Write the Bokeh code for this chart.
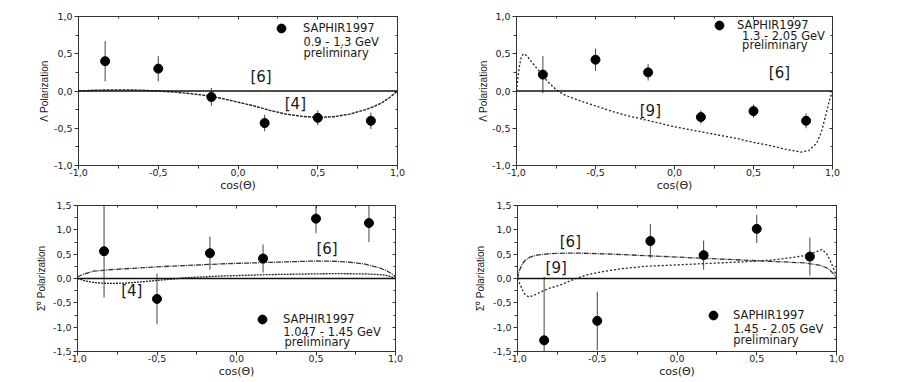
from bokeh.plotting import figure
from bokeh.layouts import column, row
from bokeh.models import (Range1d, FixedTicker, LinearAxis, Span, Label, Legend, LegendItem,
                          CustomJSTickFormatter, ColumnDataSource, CustomLabelingPolicy)
from bokeh.embed import file_html
from bokeh.resources import INLINE

# ---------------- data ----------------
cos_bins = [-0.833, -0.5, -0.167, 0.167, 0.5, 0.833]

# Lambda polarization, 0.9 - 1.3 GeV
lam1_val = [0.40, 0.30, -0.08, -0.43, -0.36, -0.40]
lam1_err = [0.27, 0.17, 0.12, 0.11, 0.10, 0.11]
lam1_m4_x = [-1, -0.9, -0.8, -0.7, -0.6, -0.5, -0.4, -0.3, -0.2, -0.1, 0, 0.1, 0.2, 0.3, 0.4,
             0.5, 0.6, 0.7, 0.8, 0.85, 0.9, 0.95, 1.0]
lam1_m4_y = [0, 0.01, 0.015, 0.015, 0.01, 0.0, -0.015, -0.035, -0.06, -0.1, -0.15, -0.2, -0.26,
             -0.31, -0.34, -0.355, -0.345, -0.31, -0.25, -0.21, -0.16, -0.09, 0.0]

# Lambda polarization, 1.3 - 2.05 GeV
lam2_val = [0.22, 0.42, 0.25, -0.35, -0.27, -0.40]
lam2_err = [0.25, 0.15, 0.11, 0.09, 0.09, 0.10]
lam2_m9_x = [-1, -0.99, -0.98, -0.97, -0.96, -0.95, -0.93, -0.9, -0.85, -0.8, -0.75, -0.7, -0.6,
             -0.5, -0.4, -0.3, -0.2, -0.1, 0, 0.1, 0.2, 0.3, 0.4, 0.5, 0.6, 0.7, 0.75, 0.8, 0.85,
             0.9, 0.93, 0.96, 0.98, 1.0]
lam2_m9_y = [0, 0.2, 0.35, 0.45, 0.49, 0.5, 0.46, 0.38, 0.25, 0.12, 0.02, -0.05, -0.13, -0.2,
             -0.27, -0.33, -0.38, -0.43, -0.48, -0.52, -0.56, -0.6, -0.64, -0.69, -0.73, -0.78,
             -0.8, -0.82, -0.8, -0.7, -0.55, -0.3, -0.13, 0]

# Sigma0 polarization, 1.047 - 1.45 GeV
sig1_val = [0.56, -0.42, 0.52, 0.41, 1.23, 1.14]
sig1_err = [0.95, 0.52, 0.34, 0.29, 0.30, 0.39]
sig1_m6_x = [-1, -0.97, -0.93, -0.9, -0.8, -0.7, -0.5, -0.3, -0.1, 0.1, 0.3, 0.5, 0.6, 0.7, 0.8,
             0.9, 0.95, 0.98, 1]
sig1_m6_y = [0.03, 0.08, 0.12, 0.15, 0.18, 0.2, 0.24, 0.27, 0.3, 0.32, 0.34, 0.36, 0.355, 0.34,
             0.3, 0.22, 0.15, 0.09, 0.03]
sig1_m4_x = [-1, -0.95, -0.9, -0.85, -0.8, -0.7, -0.6, -0.5, -0.4, -0.3, -0.2, -0.1, 0, 0.2, 0.4,
             0.6, 0.8, 0.9, 0.95, 1]
sig1_m4_y = [0, -0.05, -0.08, -0.095, -0.1, -0.095, -0.07, -0.04, -0.01, 0.02, 0.035, 0.05, 0.06,
             0.08, 0.09, 0.1, 0.095, 0.08, 0.06, 0.0]

# Sigma0 polarization, 1.45 - 2.05 GeV
sig2_val = [-1.27, -0.87, 0.77, 0.48, 1.02, 0.45]
sig2_err = [1.30, 0.60, 0.35, 0.30, 0.29, 0.39]
sig2_m6_x = [-1, -0.99, -0.97, -0.95, -0.92, -0.88, -0.8, -0.7, -0.6, -0.4, -0.2, 0, 0.2, 0.4,
             0.6, 0.8, 0.9, 0.95, 0.98, 1]
sig2_m6_y = [0.0, 0.15, 0.3, 0.38, 0.44, 0.48, 0.51, 0.52, 0.52, 0.5, 0.47, 0.44, 0.41, 0.38,
             0.35, 0.32, 0.27, 0.2, 0.1, 0.02]
sig2_m9_x = [-1, -0.98, -0.96, -0.93, -0.9, -0.85, -0.8, -0.73, -0.65, -0.56, -0.45, -0.35, -0.2,
             0, 0.2, 0.4, 0.6, 0.7, 0.8, 0.86, 0.91, 0.94, 0.97, 1]
sig2_m9_y = [0, -0.15, -0.3, -0.38, -0.35, -0.27, -0.2, -0.13, -0.02, 0.08, 0.15, 0.2, 0.25, 0.28,
             0.31, 0.34, 0.38, 0.42, 0.47, 0.53, 0.6, 0.5, 0.3, 0.05]

x_ticks = [-1.0, -0.5, 0.0, 0.5, 1.0]
x_minor = [-0.75, -0.25, 0.25, 0.75]
lam_ticks = [-1.0, -0.5, 0.0, 0.5, 1.0]
lam_minor = [-0.75, -0.25, 0.25, 0.75]
sig_ticks = [-1.5, -1.0, -0.5, 0.0, 0.5, 1.0, 1.5]
sig_minor = [-1.25, -0.75, -0.25, 0.25, 0.75, 1.25]

AX = "#333333"
TXT = "#1a1a1a"
FMT = "return tick.toFixed(1).replace('.', ',')"
NO_LABELS = "for (const i of indices) { indices.unset(i) }\nreturn indices"


def make_fig(w, h, bl, br, bt, bb, yr, yticks, yminor, ylabel, ylab_standoff):
    p = figure(width=w, height=h, min_border_left=bl, min_border_right=br,
               min_border_top=bt, min_border_bottom=bb,
               x_range=Range1d(-1, 1), y_range=Range1d(*yr),
               output_backend="svg", toolbar_location=None, x_axis_location=None,
               y_axis_location=None)
    p.outline_line_color = AX
    p.outline_line_width = 1
    p.xgrid.visible = False
    p.ygrid.visible = False
    p.background_fill_color = "white"
    p.border_fill_color = "white"

    xa = LinearAxis(ticker=FixedTicker(ticks=x_ticks, minor_ticks=x_minor),
                    formatter=CustomJSTickFormatter(code=FMT), axis_label="cos(Θ)")
    ya = LinearAxis(ticker=FixedTicker(ticks=yticks, minor_ticks=yminor),
                    formatter=CustomJSTickFormatter(code=FMT), axis_label=ylabel)
    for a in (xa, ya):
        a.axis_line_color = AX
        a.major_tick_line_color = AX
        a.minor_tick_line_color = AX
        a.major_tick_out = 4
        a.major_tick_in = 0
        a.minor_tick_out = 3
        a.minor_tick_in = 0
        a.major_label_text_font = "DejaVu Sans"
        a.major_label_text_font_size = "9.5px"
        a.major_label_text_color = TXT
        a.axis_label_text_font_style = "normal"
        a.axis_label_text_color = TXT
    xa.major_label_standoff = -1
    xa.axis_label_standoff = 0
    xa.axis_label_text_font = "DejaVu Sans"
    xa.axis_label_text_font_size = "11px"
    ya.major_label_standoff = 2
    ya.axis_label_text_font = "Liberation Sans"
    ya.axis_label_text_font_size = "10px"
    ya.axis_label_standoff = ylab_standoff
    p.add_layout(xa, "below")
    p.add_layout(ya, "left")

    ta = LinearAxis(ticker=FixedTicker(ticks=x_ticks, minor_ticks=x_minor))
    ra = LinearAxis(ticker=FixedTicker(ticks=yticks, minor_ticks=yminor))
    for a in (ta, ra):
        a.axis_line_color = AX
        a.major_tick_line_color = AX
        a.minor_tick_line_color = AX
        a.major_tick_out = 0
        a.major_tick_in = 3
        a.minor_tick_out = 0
        a.minor_tick_in = 2
        a.major_label_text_font_size = "1px"
        a.major_label_standoff = 0
        a.major_label_policy = CustomLabelingPolicy(code=NO_LABELS)
    p.add_layout(ta, "above")
    p.add_layout(ra, "right")

    p.add_layout(Span(location=0, dimension="width", line_color="#111111", line_width=1.4))
    return p


def add_data(p, vals, errs):
    lo = [v - e for v, e in zip(vals, errs)]
    hi = [v + e for v, e in zip(vals, errs)]
    src = ColumnDataSource(dict(x=cos_bins, y=vals, lo=lo, hi=hi))
    p.segment(x0="x", y0="lo", x1="x", y1="hi", source=src, line_color="#444444", line_width=1)
    r = p.scatter(x="x", y="y", source=src, size=9, marker="circle",
                  fill_color="black", line_color="black")
    return r


def add_legend(p, r, lx, ly, standoff, lines):
    leg = Legend(items=[LegendItem(label="SAPHIR1997", renderers=[r])], location=(lx, ly),
                 border_line_color=None, background_fill_alpha=0, padding=0, margin=0,
                 spacing=0, glyph_width=22, glyph_height=22, label_height=22,
                 label_standoff=standoff, label_text_font="DejaVu Sans",
                 label_text_font_size="11.5px", label_text_color=TXT,
                 label_text_baseline="middle")
    p.add_layout(leg)
    for (tx, ty, t) in lines:
        p.add_layout(Label(x=tx, y=ty, text=t, text_font="DejaVu Sans",
                           text_font_size="11.5px", text_color=TXT, text_baseline="middle",
                           text_align="left"))


def ref_label(p, x, y, t):
    p.add_layout(Label(x=x, y=y, text=t, text_font="DejaVu Sans", text_font_size="15px",
                       text_color=TXT, text_baseline="middle", text_align="left"))


# ---- panel 1 ----
f1 = make_fig(450, 198, 78, 53, 16, 32, (-1, 1), lam_ticks, lam_minor, "Λ Polarization", 1)
f1.line(lam1_m4_x, lam1_m4_y, line_color="#222222", line_width=1.4, line_dash="3 1")
r1 = add_data(f1, lam1_val, lam1_err)
add_legend(f1, r1, 192, 126, 11, [(0.41, 0.657, "0.9 - 1.3 GeV"), (0.41, 0.51, "preliminary")])
ref_label(f1, 0.078, 0.19, "[6]")
ref_label(f1, 0.293, -0.173, "[4]")

# ---- panel 2 ----
f2 = make_fig(450, 198, 66, 68, 15, 33, (-1, 1), lam_ticks, lam_minor, "Λ Polarization", 0)
f2.line(lam2_m9_x, lam2_m9_y, line_color="#222222", line_width=1.3, line_dash="2 2")
r2 = add_data(f2, lam2_val, lam2_err)
add_legend(f2, r2, 192, 129, 7, [(0.428, 0.733, "1.3 - 2.05 GeV"), (0.428, 0.622, "preliminary")])
ref_label(f2, 0.597, 0.244, "[6]")
ref_label(f2, -0.22, -0.267, "[9]")

# ---- panel 3 ----
f3 = make_fig(450, 184, 77, 55, 4, 31, (-1.5, 1.5), sig_ticks, sig_minor, "Σ⁰ Polarization", 3)
f3.line(sig1_m6_x, sig1_m6_y, line_color="#333333", line_width=1.3, line_dash="5 1 1 1")
f3.line(sig1_m4_x, sig1_m4_y, line_color="#222222", line_width=1.3, line_dash="2 1")
r3 = add_data(f3, sig1_val, sig1_err)
add_legend(f3, r3, 174, 21, 10, [(0.294, -1.09, "1.047 - 1.45 GeV"), (0.302, -1.31, "preliminary")])
ref_label(f3, 0.503, 0.606, "[6]")
ref_label(f3, -0.725, -0.25, "[4]")

# ---- panel 4 ----
f4 = make_fig(450, 184, 67, 64, 7, 28, (-1.5, 1.5), sig_ticks, sig_minor, "Σ⁰ Polarization", 4)
f4.line(sig2_m6_x, sig2_m6_y, line_color="#333333", line_width=1.3, line_dash="5 1 1 1")
f4.line(sig2_m9_x, sig2_m9_y, line_color="#222222", line_width=1.3, line_dash="2 2")
r4 = add_data(f4, sig2_val, sig2_err)
add_legend(f4, r4, 185, 25, 9, [(0.352, -1.03, "1.45 - 2.05 GeV"), (0.352, -1.265, "preliminary")])
ref_label(f4, -0.735, 0.76, "[6]")
ref_label(f4, -0.824, 0.225, "[9]")

p = column(row(f1, f2), row(f3, f4))
open("out.html", "w").write(file_html(p, INLINE))
